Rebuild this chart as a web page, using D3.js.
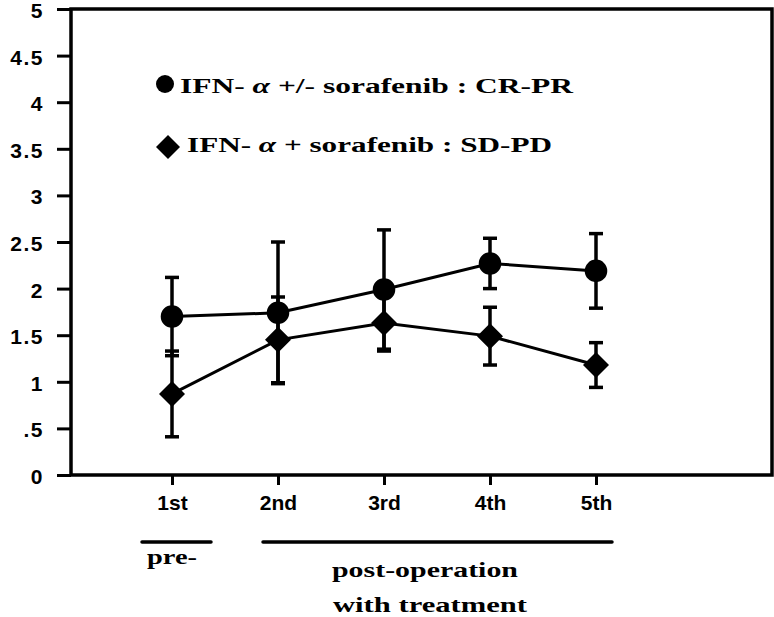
<!DOCTYPE html>
<meta charset="utf-8">
<style>
body { margin: 0; background: #fff; }
.tick-label { font-family: "Liberation Sans", Arial, sans-serif; font-weight: bold; font-size: 21px; }
.serif { font-family: "Liberation Serif", "Times New Roman", serif; font-weight: bold; }
</style>
<svg width="774" height="617"></svg>
<script src="https://d3js.org/d3.v7.min.js"></script>
<script>

var svg = d3.select("svg");

// data
var visits = ["1st", "2nd", "3rd", "4th", "5th"];
var crprMean = [1.70, 1.74, 1.99, 2.27, 2.19];
var crprErr  = [0.42, 0.76, 0.64, 0.27, 0.40];
var sdpdMean = [0.87, 1.45, 1.63, 1.49, 1.18];
var sdpdErr  = [0.46, 0.46, 0.30, 0.31, 0.24];
var yTicks = [0, 0.5, 1, 1.5, 2, 2.5, 3, 3.5, 4, 4.5, 5];
var yTickLabels = ["0", ".5", "1", "1.5", "2", "2.5", "3", "3.5", "4", "4.5", "5"];

var plotLeft = 71, plotRight = 772, plotTop = 9, plotBottom = 475;

var x = d3.scaleLinear().domain([0, 4]).range([172, 596]);
var y = d3.scaleLinear().domain([0, 5]).range([plotBottom, plotTop]);

// frame
svg.append("rect")
    .attr("x", plotLeft).attr("y", plotTop)
    .attr("width", plotRight - plotLeft).attr("height", plotBottom - plotTop)
    .attr("fill", "none").attr("stroke", "#000").attr("stroke-width", 3.5);

// y axis
var yAxis = svg.append("g")
    .attr("transform", "translate(" + plotLeft + ",0)")
    .call(d3.axisLeft(y).tickValues(yTicks).tickSize(14).tickPadding(13)
      .tickFormat(function(d, i) { return yTickLabels[i]; }));
yAxis.select(".domain").remove();
yAxis.selectAll("line").attr("stroke", "#000").attr("stroke-width", 3);
yAxis.selectAll("text").attr("class", "tick-label").attr("fill", "#000")
    .attr("font-size", 22).attr("letter-spacing", 1.5).attr("dy", "0.4em");

// x axis
var xAxis = svg.append("g")
    .attr("transform", "translate(0," + plotBottom + ")")
    .call(d3.axisBottom(x).tickValues(d3.range(visits.length)).tickSize(10).tickPadding(10)
      .tickFormat(function(d) { return visits[d]; }));
xAxis.select(".domain").remove();
xAxis.selectAll("line").attr("stroke", "#000").attr("stroke-width", 3);
xAxis.selectAll("text").attr("class", "tick-label").attr("fill", "#000").attr("font-size", 20);

function drawSeries(mean, err, shape) {
  var g = svg.append("g");
  var line = d3.line().x(function(d, i) { return x(i); }).y(function(d) { return y(d); });
  g.append("path").datum(mean)
      .attr("d", line).attr("fill", "none").attr("stroke", "#000").attr("stroke-width", 3);

  mean.forEach(function(m, i) {
    var cx = x(i);
    g.append("line")
        .attr("x1", cx).attr("x2", cx)
        .attr("y1", y(m - err[i])).attr("y2", y(m + err[i]))
        .attr("stroke", "#000").attr("stroke-width", 3.5);
    [m - err[i], m + err[i]].forEach(function(v) {
      g.append("line")
          .attr("x1", cx - 7).attr("x2", cx + 7)
          .attr("y1", y(v)).attr("y2", y(v))
          .attr("stroke", "#000").attr("stroke-width", 3.5);
    });
  });

  g.selectAll(".mark").data(mean).enter().append("path")
      .attr("transform", function(d, i) { return "translate(" + x(i) + "," + y(d) + ")"; })
      .attr("d", shape === "circle" ? d3.symbol().type(d3.symbolCircle).size(400)
                                    : "M0,-13L13,0L0,13L-13,0Z")
      .attr("fill", "#000");
}

drawSeries(crprMean, crprErr, "circle");
drawSeries(sdpdMean, sdpdErr, "diamond");

// legend
var legend = svg.append("g");
legend.append("circle").attr("cx", 165).attr("cy", 84).attr("r", 9).attr("fill", "#000");
legend.append("path").attr("d", "M168,135L180,147L168,159L156,147Z").attr("fill", "#000");

function legendText(xp, yp, width, before, after) {
  var t = legend.append("text").attr("class", "serif").attr("x", xp).attr("y", yp)
      .attr("font-size", 20).attr("textLength", width).attr("lengthAdjust", "spacingAndGlyphs");
  t.append("tspan").text(before);
  t.append("tspan").attr("font-style", "italic").text("α");
  t.append("tspan").text(after);
}
legendText(180, 93, 393, "IFN- ", " +/- sorafenib : CR-PR");
legendText(187, 152, 365, "IFN- ", " + sorafenib : SD-PD");

// phase brackets
svg.append("line").attr("x1", 142).attr("x2", 211).attr("y1", 542).attr("y2", 542)
    .attr("stroke", "#000").attr("stroke-width", 3.5).attr("stroke-linecap", "round");
svg.append("line").attr("x1", 263).attr("x2", 612).attr("y1", 542).attr("y2", 542)
    .attr("stroke", "#000").attr("stroke-width", 3.5).attr("stroke-linecap", "round");

svg.append("text").attr("class", "serif").attr("x", 147).attr("y", 564)
    .attr("font-size", 21).attr("textLength", 50).attr("lengthAdjust", "spacingAndGlyphs").text("pre-");
svg.append("text").attr("class", "serif").attr("x", 332).attr("y", 577)
    .attr("font-size", 22).attr("textLength", 186).attr("lengthAdjust", "spacingAndGlyphs").text("post-operation");
svg.append("text").attr("class", "serif").attr("x", 333).attr("y", 612)
    .attr("font-size", 22).attr("textLength", 194).attr("lengthAdjust", "spacingAndGlyphs").text("with treatment");

</script>
